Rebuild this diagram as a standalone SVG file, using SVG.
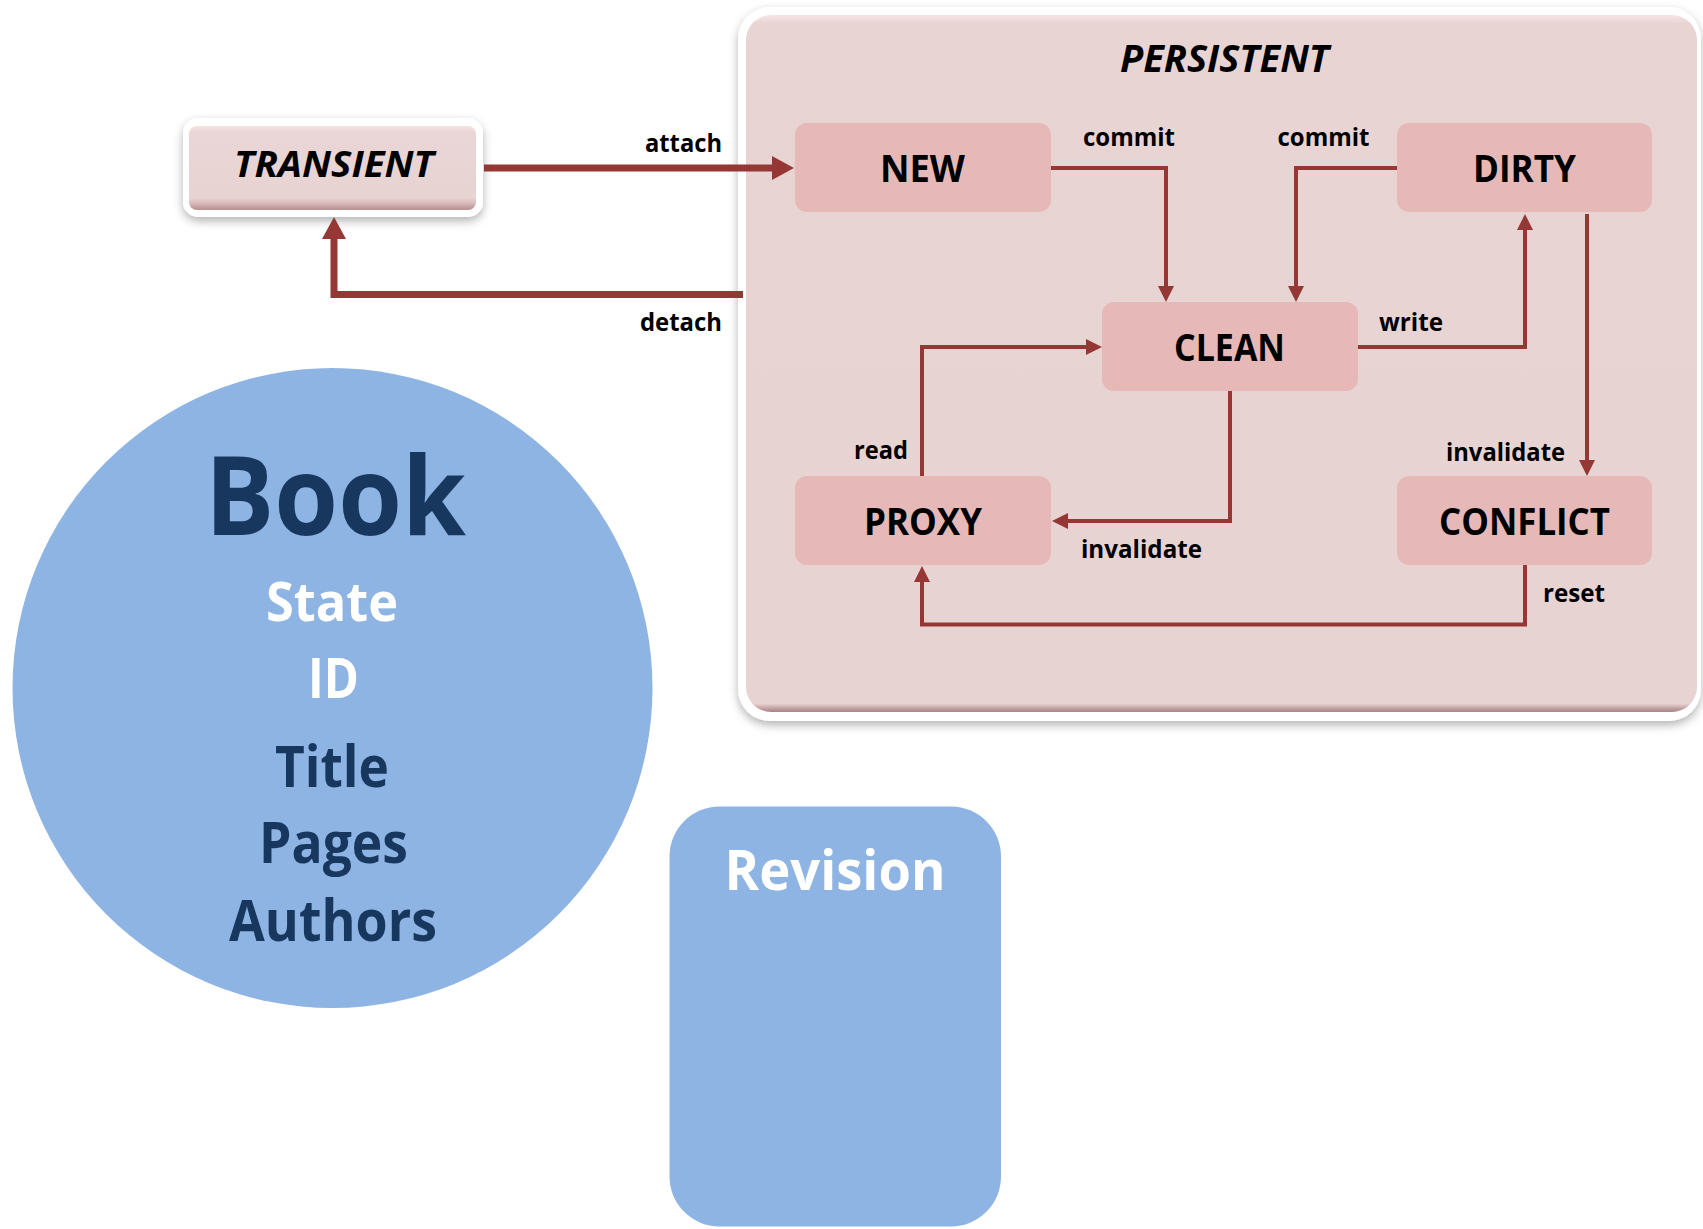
<svg xmlns="http://www.w3.org/2000/svg" width="1703" height="1229" viewBox="0 0 1703 1229">
<defs>
<style>
.state{fill:#E6B9B8}
.slbl{font-family:"Open Sans",Lato,"Liberation Sans",sans-serif;font-weight:bold;font-size:38px;fill:#000;text-anchor:middle}
.title{font-family:"Open Sans",Lato,"Liberation Sans",sans-serif;font-weight:bold;font-style:italic;fill:#000;text-anchor:middle}
.elbl{font-family:"Open Sans",Lato,"Liberation Sans",sans-serif;font-weight:bold;font-size:25px;fill:#000;text-anchor:middle}
.big{font-family:"Open Sans",Lato,"Liberation Sans",sans-serif;font-weight:bold;text-anchor:middle}
.thick{fill:none;stroke:#953735;stroke-width:7}
.thin{fill:none;stroke:#953735;stroke-width:4}
</style>
<marker id="ahBig" markerUnits="userSpaceOnUse" markerWidth="22" markerHeight="24" refX="0" refY="12" orient="auto">
<path d="M0,0 L22,12 L0,24 z" fill="#953735"/>
</marker>
<marker id="ahSmall" markerUnits="userSpaceOnUse" markerWidth="16" markerHeight="16" refX="0" refY="8" orient="auto">
<path d="M0,0 L16,8 L0,16 z" fill="#953735"/>
</marker>
<filter id="shadow" x="-10%" y="-10%" width="120%" height="130%">
<feDropShadow dx="0" dy="4" stdDeviation="5" flood-color="#000" flood-opacity="0.3"/>
</filter>
<linearGradient id="gTrans" x1="0" y1="0" x2="0" y2="1">
<stop offset="0" stop-color="#F4E2E2"/>
<stop offset="0.07" stop-color="#EAD6D6"/>
<stop offset="0.86" stop-color="#E8D3D3"/>
<stop offset="0.92" stop-color="#D8B8B9"/>
<stop offset="1" stop-color="#B48F90"/>
</linearGradient>
<linearGradient id="gPers" x1="0" y1="0" x2="0" y2="1">
<stop offset="0" stop-color="#F6E4E4"/>
<stop offset="0.012" stop-color="#E9D4D4"/>
<stop offset="0.988" stop-color="#E8D3D3"/>
<stop offset="0.994" stop-color="#C7A6A7"/>
<stop offset="1" stop-color="#A88485"/>
</linearGradient>
</defs>
<rect width="1703" height="1229" fill="#FFFFFF"/>

<g id="persistent">
<rect x="738" y="7" width="963" height="714" rx="32" fill="#FFFFFF" filter="url(#shadow)"/>
<rect x="746" y="15" width="951" height="697" rx="25" fill="url(#gPers)"/>
<text class="title" x="1224.5" y="72" font-size="37" textLength="209" lengthAdjust="spacingAndGlyphs">PERSISTENT</text>
</g>

<g id="transient">
<rect x="183" y="118" width="300" height="99" rx="15" fill="#FFFFFF" filter="url(#shadow)"/>
<rect x="189" y="126" width="287" height="84" rx="8" fill="url(#gTrans)"/>
<text class="title" x="334" y="177" font-size="35" textLength="200" lengthAdjust="spacingAndGlyphs">TRANSIENT</text>
</g>

<g id="new">
<rect class="state" x="795" y="123" width="256" height="89" rx="12"/>
<text class="slbl" x="922.5" y="182" textLength="85" lengthAdjust="spacingAndGlyphs">NEW</text>
</g>
<g id="dirty">
<rect class="state" x="1397" y="123" width="255" height="89" rx="12"/>
<text class="slbl" x="1524.5" y="182" textLength="103" lengthAdjust="spacingAndGlyphs">DIRTY</text>
</g>
<g id="clean">
<rect class="state" x="1102" y="302" width="256" height="89" rx="12"/>
<text class="slbl" x="1229.5" y="360.5" textLength="111" lengthAdjust="spacingAndGlyphs">CLEAN</text>
</g>
<g id="proxy">
<rect class="state" x="795" y="476" width="256" height="89" rx="12"/>
<text class="slbl" x="923" y="534.5" textLength="118" lengthAdjust="spacingAndGlyphs">PROXY</text>
</g>
<g id="conflict">
<rect class="state" x="1397" y="476" width="255" height="89" rx="12"/>
<text class="slbl" x="1524.5" y="534.5" textLength="171" lengthAdjust="spacingAndGlyphs">CONFLICT</text>
</g>

<g id="book">
<circle cx="332.5" cy="688" r="320" fill="#8EB4E3"/>
<text class="big" x="335.5" y="535" font-size="110" fill="#17375E" textLength="261" lengthAdjust="spacingAndGlyphs">Book</text>
<text class="big" x="332" y="621" font-size="54" fill="#FFFFFF" textLength="132" lengthAdjust="spacingAndGlyphs">State</text>
<text class="big" x="333.5" y="697.5" font-size="56" fill="#FFFFFF" textLength="51" lengthAdjust="spacingAndGlyphs">ID</text>
<text class="big" x="332" y="786.5" font-size="57" fill="#17375E" textLength="114" lengthAdjust="spacingAndGlyphs">Title</text>
<text class="big" x="333.5" y="862.5" font-size="57" fill="#17375E" textLength="149" lengthAdjust="spacingAndGlyphs">Pages</text>
<text class="big" x="333" y="941" font-size="57" fill="#17375E" textLength="208" lengthAdjust="spacingAndGlyphs">Authors</text>
</g>

<g id="revision">
<rect x="669.5" y="806.5" width="331.5" height="420" rx="50" fill="#8EB4E3"/>
<text class="big" x="835" y="889.5" font-size="56" fill="#FFFFFF" textLength="221" lengthAdjust="spacingAndGlyphs">Revision</text>
</g>

<g id="connectors">
<path class="thick" d="M484,168 H772" marker-end="url(#ahBig)"/>
<path class="thick" d="M743,294.5 H334 V239" marker-end="url(#ahBig)"/>
<path class="thin" d="M1051,168 H1166 V286" marker-end="url(#ahSmall)"/>
<path class="thin" d="M1397,168 H1296 V286" marker-end="url(#ahSmall)"/>
<path class="thin" d="M1358,347 H1525 V230" marker-end="url(#ahSmall)"/>
<path class="thin" d="M1587,214 V460" marker-end="url(#ahSmall)"/>
<path class="thin" d="M1230,391 V521 H1068" marker-end="url(#ahSmall)"/>
<path class="thin" d="M922,476 V347 H1086" marker-end="url(#ahSmall)"/>
<path class="thin" d="M1525,565 V624.5 H922 V582" marker-end="url(#ahSmall)"/>
<text class="elbl" x="683.5" y="152" textLength="77" lengthAdjust="spacingAndGlyphs">attach</text>
<text class="elbl" x="681" y="331" textLength="82" lengthAdjust="spacingAndGlyphs">detach</text>
<text class="elbl" x="1129" y="146" textLength="92" lengthAdjust="spacingAndGlyphs">commit</text>
<text class="elbl" x="1323.5" y="146" textLength="92" lengthAdjust="spacingAndGlyphs">commit</text>
<text class="elbl" x="1411" y="331" textLength="64" lengthAdjust="spacingAndGlyphs">write</text>
<text class="elbl" x="1505.5" y="460.5" textLength="119" lengthAdjust="spacingAndGlyphs">invalidate</text>
<text class="elbl" x="1141.5" y="558" textLength="121" lengthAdjust="spacingAndGlyphs">invalidate</text>
<text class="elbl" x="881" y="458.5" textLength="54" lengthAdjust="spacingAndGlyphs">read</text>
<text class="elbl" x="1574" y="602" textLength="62" lengthAdjust="spacingAndGlyphs">reset</text>
</g>
</svg>
